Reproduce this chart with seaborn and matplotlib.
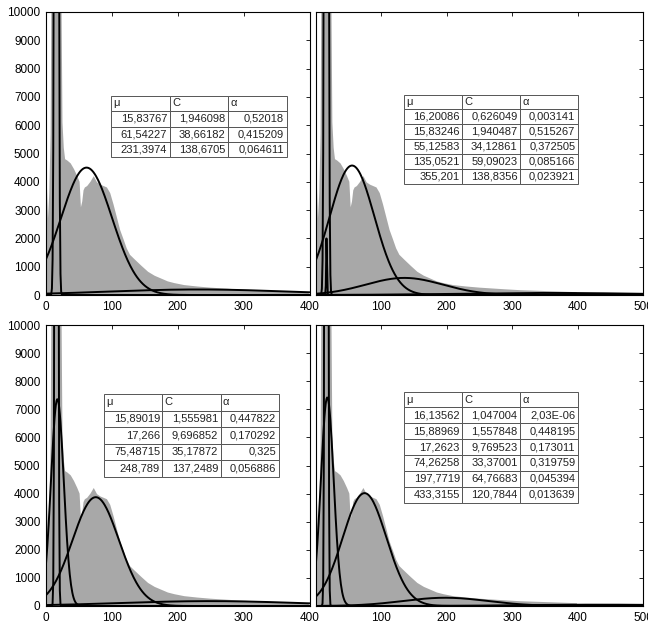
import numpy as np
import matplotlib
matplotlib.use('Agg')
import matplotlib.pyplot as plt
import seaborn as sns

# histogram (same image histogram in all 4 panels), bin edges + heights
hist_edges = [0, 1, 2, 4, 6, 8, 10, 12, 14, 16, 18, 20, 22, 24, 26, 28, 30, 35, 40, 45, 50,
              52, 54, 56, 58, 60, 65, 70, 75, 80, 85, 90, 95, 100, 105, 110, 115, 120, 125,
              130, 140, 150, 160, 170, 180, 190, 200, 220, 240, 260, 280, 300, 325, 350, 375,
              398, 400]
hist_counts = [3800, 3800, 2700, 3600, 5700, 14000, 45000, 95000, 120000, 110000, 60000, 25000,
               12000, 6100, 5200, 4800, 4750, 4650, 4450, 4200, 4000,
               3100, 3300, 3700, 3800, 3850, 4000, 4200, 3980, 3900, 3850, 3800, 3600,
               3200, 2750, 2300, 1980, 1650, 1420,
               1250, 1030, 820, 680, 580, 480, 420,
               350, 300, 260, 230, 200, 170, 150, 130, 110, 100]

# total pixel count used to scale the mixture components (from the fitted peak heights)
n_total = 1.0508e6

# tables shown in each panel: mu, C, alpha
table_tl = [["15,83767", "1,946098", "0,52018"],
            ["61,54227", "38,66182", "0,415209"],
            ["231,3974", "138,6705", "0,064611"]]
table_tr = [["16,20086", "0,626049", "0,003141"],
            ["15,83246", "1,940487", "0,515267"],
            ["55,12583", "34,12861", "0,372505"],
            ["135,0521", "59,09023", "0,085166"],
            ["355,201", "138,8356", "0,023921"]]
table_bl = [["15,89019", "1,555981", "0,447822"],
            ["17,266", "9,696852", "0,170292"],
            ["75,48715", "35,17872", "0,325"],
            ["248,789", "137,2489", "0,056886"]]
table_br = [["16,13562", "1,047004", "2,03E-06"],
            ["15,88969", "1,557848", "0,448195"],
            ["17,2623", "9,769523", "0,173011"],
            ["74,26258", "33,37001", "0,319759"],
            ["197,7719", "64,76683", "0,045394"],
            ["433,3155", "120,7844", "0,013639"]]
col_labels = ["\u03bc", "C", "\u03b1"]

x_max = [400, 500, 400, 500]
y_ticks = list(range(0, 10001, 1000))

sns.set_style("white")
plt.rcParams['font.family'] = ['Liberation Sans', 'DejaVu Sans']

W, H = 648, 623
fig = plt.figure(figsize=(W / 100, H / 100), dpi=100)

# axes boxes in pixels: (left, top, right, bottom)
boxes = [(46, 12, 309.5, 295), (316, 12, 643, 295),
         (46, 325, 309.5, 606), (316, 325, 643, 606)]
# table bboxes in axes coords
tbl_boxes = [[0.247, 0.486, 0.666, 0.218], [0.270, 0.393, 0.530, 0.315],
             [0.221, 0.460, 0.662, 0.294], [0.270, 0.368, 0.530, 0.395]]
tables = [table_tl, table_tr, table_bl, table_br]

centers = [(a + b) / 2 for a, b in zip(hist_edges[:-1], hist_edges[1:])]
x_grid = np.arange(0, 501)
gray = '#a8a8a8'

for i, (l, t, r, b) in enumerate(boxes):
    ax = fig.add_axes([l / W, (H - b) / H, (r - l) / W, (b - t) / H])
    sns.histplot(x=centers, weights=hist_counts, bins=hist_edges, element='poly',
                 fill=True, color=gray, alpha=1, linewidth=0, ax=ax)

    rows = tables[i]
    for row in rows:
        mu, c, a = [float(s.replace(',', '.')) for s in row]
        comp = a * n_total * np.exp(-0.5 * ((x_grid - mu) / c) ** 2) / (c * np.sqrt(2 * np.pi))
        sns.lineplot(x=x_grid, y=comp, color='black', linewidth=1.4, ax=ax)

    ax.set_xlim(0, x_max[i])
    ax.set_ylim(0, 10000)
    ax.set_xticks(range(0, x_max[i] + 1, 100))
    ax.set_yticks(y_ticks)
    ax.set_xlabel('')
    ax.set_ylabel('')
    ax.tick_params(direction='in', top=True, right=True, length=3, width=0.6,
                   labelsize=8.5, colors='black', pad=4)
    if i in (1, 3):
        ax.set_yticklabels([])
        # the 0 label sits under the left panel's 400 label in the reference
        ax.set_xticklabels([''] + [str(v) for v in range(100, x_max[i] + 1, 100)])
    for sp in ax.spines.values():
        sp.set_color('black')
        sp.set_linewidth(0.8)

    tbl = ax.table(cellText=rows, colLabels=col_labels, cellLoc='right', colLoc='left',
                   bbox=tbl_boxes[i], zorder=5)
    tbl.auto_set_font_size(False)
    tbl.set_fontsize(8)
    for cell in tbl.get_celld().values():
        cell.set_edgecolor('#555555')
        cell.set_linewidth(0.7)
        cell.PAD = 0.04
        cell.get_text().set_color('#222222')

fig.savefig('out.png', dpi=100)
